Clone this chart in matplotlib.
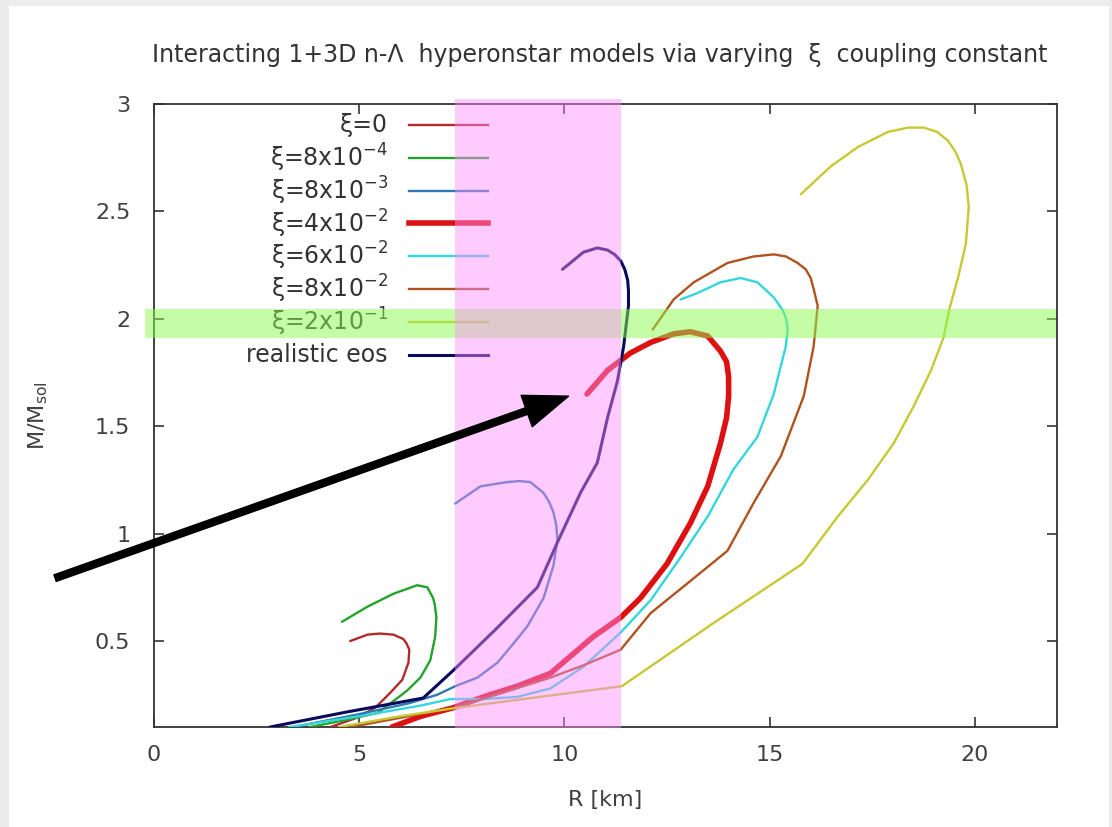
import matplotlib
matplotlib.use("Agg")
import matplotlib.pyplot as plt
from matplotlib.patches import Rectangle

plt.rcParams['font.family'] = ['DejaVu Sans']

# mass-radius curves, R in km and M in solar masses
xi0_r = [4.30, 4.90, 5.39, 5.76, 6.05, 6.20, 6.22, 6.15, 6.07, 5.83, 5.50, 5.20, 4.78]
xi0_m = [0.10, 0.14, 0.19, 0.26, 0.32, 0.40, 0.46, 0.49, 0.51, 0.53, 0.535, 0.53, 0.50]

xi8e4_r = [3.80, 4.60, 5.44, 5.76, 6.17, 6.49, 6.73, 6.85, 6.88, 6.84, 6.80, 6.66, 6.41, 5.83, 5.20, 4.58]
xi8e4_m = [0.10, 0.13, 0.165, 0.21, 0.27, 0.33, 0.41, 0.52, 0.61, 0.67, 0.70, 0.75, 0.76, 0.72, 0.66, 0.59]

xi8e3_r = [3.40, 5.00, 6.20, 6.90, 7.34, 7.88, 8.37, 8.85, 9.10, 9.49, 9.73, 9.83, 9.80, 9.73, 9.62, 9.49, 9.17,
           8.90, 8.60, 7.95, 7.34]
xi8e3_m = [0.10, 0.16, 0.21, 0.25, 0.29, 0.33, 0.40, 0.51, 0.57, 0.70, 0.85, 0.97, 1.04, 1.10, 1.15, 1.19, 1.24,
           1.245, 1.24, 1.22, 1.14]

xi4e2_r = [5.80, 6.50, 7.30, 8.02, 8.85, 9.66, 10.15, 10.70, 11.37, 11.85, 12.50, 13.07, 13.49, 13.80, 13.95,
           14.00, 14.00, 13.95, 13.80, 13.49, 13.07, 12.66, 12.10, 11.60, 11.05, 10.55]
xi4e2_m = [0.10, 0.15, 0.19, 0.24, 0.29, 0.35, 0.43, 0.52, 0.61, 0.70, 0.86, 1.05, 1.22, 1.42, 1.54,
           1.64, 1.73, 1.80, 1.85, 1.92, 1.94, 1.93, 1.89, 1.84, 1.76, 1.65]

xi6e2_r = [3.30, 5.00, 6.50, 7.22, 8.02, 8.85, 9.66, 10.46, 11.37, 12.10, 12.83, 13.49, 14.12, 14.70, 15.10,
           15.39, 15.44, 15.40, 15.32, 15.10, 14.70, 14.29, 13.80, 13.24, 12.83]
xi6e2_m = [0.10, 0.15, 0.20, 0.23, 0.23, 0.24, 0.28, 0.38, 0.54, 0.69, 0.89, 1.08, 1.30, 1.45, 1.65,
           1.87, 1.95, 2.00, 2.04, 2.10, 2.17, 2.19, 2.17, 2.12, 2.09]

xi8e2_r = [4.80, 6.20, 7.30, 8.50, 9.66, 10.50, 11.37, 12.10, 13.07, 13.97, 14.60, 15.27, 15.83, 16.07, 16.17,
           16.12, 16.07, 16.00, 15.88, 15.68, 15.40, 15.10, 14.60, 13.97, 13.15, 12.66, 12.15]
xi8e2_m = [0.10, 0.15, 0.19, 0.26, 0.33, 0.39, 0.46, 0.63, 0.78, 0.92, 1.14, 1.36, 1.64, 1.87, 2.06,
           2.10, 2.14, 2.19, 2.23, 2.26, 2.29, 2.30, 2.29, 2.26, 2.17, 2.09, 1.95]

xi2e1_r = [4.50, 6.00, 7.40, 9.40, 11.40, 13.60, 15.80, 16.66, 17.39, 18.02, 18.50, 18.93, 19.24, 19.37, 19.60,
           19.78, 19.85, 19.80, 19.66, 19.52, 19.34, 19.08, 18.76, 18.37, 17.88, 17.15, 16.49, 15.76]
xi2e1_m = [0.10, 0.15, 0.19, 0.24, 0.29, 0.58, 0.86, 1.08, 1.25, 1.42, 1.59, 1.76, 1.915, 2.04, 2.20,
           2.35, 2.52, 2.62, 2.72, 2.78, 2.83, 2.87, 2.89, 2.89, 2.87, 2.80, 2.71, 2.58]

real_r = [2.83, 4.70, 6.56, 7.30, 8.30, 9.34, 9.83, 10.39, 10.80, 11.05, 11.29, 11.44, 11.56, 11.56, 11.54,
          11.47, 11.37, 11.22, 11.05, 10.80, 10.46, 9.95]
real_m = [0.10, 0.17, 0.235, 0.365, 0.55, 0.75, 0.96, 1.19, 1.33, 1.54, 1.71, 1.87, 2.06, 2.13, 2.18,
          2.23, 2.27, 2.30, 2.32, 2.33, 2.31, 2.23]

labels = ['ξ=0', 'ξ=8x10$^{-4}$', 'ξ=8x10$^{-3}$', 'ξ=4x10$^{-2}$', 'ξ=6x10$^{-2}$',
          'ξ=8x10$^{-2}$', 'ξ=2x10$^{-1}$', 'realistic eos']
curves = [(xi0_r, xi0_m), (xi8e4_r, xi8e4_m), (xi8e3_r, xi8e3_m), (xi4e2_r, xi4e2_m),
          (xi6e2_r, xi6e2_m), (xi8e2_r, xi8e2_m), (xi2e1_r, xi2e1_m), (real_r, real_m)]
colors = ['#b22a2a', '#22a32a', '#2e78b4', '#dd1111', '#33d6dd', '#b0521e', '#c8c832', '#0a0a5a']
widths = [1.7, 1.7, 1.7, 4.0, 1.7, 1.7, 1.7, 2.2]

# highlighted ranges
r_band = (7.34, 11.38)
m_band = (1.91, 2.045)

fig = plt.figure(figsize=(11.12, 8.27), dpi=100)
fig.patch.set_facecolor('#ececec')
fig.patches.append(Rectangle((9 / 1112, 0), 1100 / 1112, 821 / 827, transform=fig.transFigure,
                             facecolor='white', edgecolor='none', zorder=-10))

ax = fig.add_axes([154 / 1112, 100 / 827, 903 / 1112, 623 / 827])
ax.set_facecolor('none')
ax.set_xlim(0, 22)
ax.set_ylim(0.1, 3)
ax.set_xticks([0, 5, 10, 15, 20])
ax.set_yticks([0.5, 1, 1.5, 2, 2.5, 3])
ax.set_xticklabels(['0', '5', '10', '15', '20'])
ax.set_yticklabels(['0.5', '1', '1.5', '2', '2.5', '3'])
ax.tick_params(direction='in', length=7, width=1.2, top=True, right=True,
               labelsize=16, labelcolor='#404040', color='#333333')
ax.tick_params(axis='x', pad=13)
ax.tick_params(axis='y', pad=17)
for s in ax.spines.values():
    s.set_color('#333333')
    s.set_linewidth(1.3)

for (r, m), c, w in zip(curves, colors, widths):
    ax.plot(r, m, color=c, lw=w, zorder=3, solid_joinstyle='round', solid_capstyle='round')

# key in the upper left, text right-aligned with the sample line after it
for i, (lab, c, w) in enumerate(zip(labels, colors, widths)):
    yy = 0.966 - i * 0.0526
    ax.text(0.259, yy, lab, transform=ax.transAxes, ha='right', va='center',
            fontsize=17, color='#333333', zorder=4)
    ax.plot([0.282, 0.370], [yy, yy], transform=ax.transAxes, color=c, lw=w, zorder=4)

# arrow pointing to the end of the 4x10^-2 sequence
ax.annotate('', xy=(xi4e2_r[-1] - 0.45, xi4e2_m[-1] - 0.01), xytext=(-2.41, 0.793),
            arrowprops=dict(facecolor='black', edgecolor='black', width=5,
                            headwidth=24, headlength=32, shrink=0),
            annotation_clip=False, zorder=7)

ax.add_patch(Rectangle((-0.22, m_band[0]), 22.19, m_band[1] - m_band[0],
                       facecolor=(0.55, 0.98, 0.31), alpha=0.5, edgecolor='none',
                       zorder=5, clip_on=False))
ax.add_patch(Rectangle((r_band[0], 0.095), r_band[1] - r_band[0], 2.93,
                       facecolor=(1.0, 0.55, 1.0), alpha=0.45, edgecolor='none',
                       zorder=6, clip_on=False))

ax.set_xlabel('R [km]', fontsize=16, color='#404040', labelpad=18)
ax.set_ylabel('M/M$_{\\mathregular{sol}}$', fontsize=16, color='#404040', labelpad=32)
fig.text(600 / 1112, 1 - 55 / 827,
         'Interacting 1+3D n-Λ  hyperonstar models via varying  ξ  coupling constant',
         ha='center', va='center', fontsize=17, color='#333333')

plt.savefig('out.png', dpi=100)
